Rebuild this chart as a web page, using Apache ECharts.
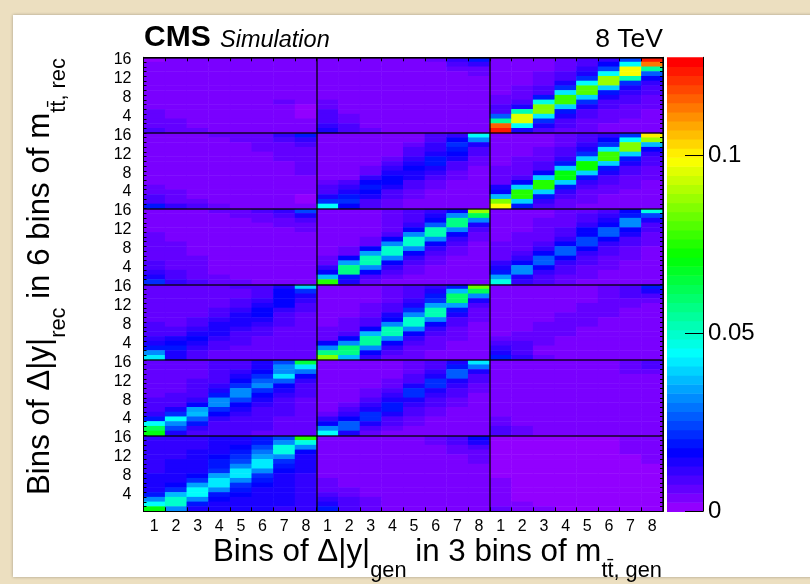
<!DOCTYPE html>
<html><head><meta charset="utf-8">
<script src="https://cdn.jsdelivr.net/npm/echarts@6/dist/echarts.min.js"></script>
<style>
html,body{margin:0;padding:0;background:#ecdfc0;overflow:hidden;}
#panel{position:absolute;left:13px;top:15px;width:820px;height:562px;background:#fff;box-shadow:0 0 3px rgba(0,0,0,0.3);}
#c{position:absolute;left:0;top:0;width:810px;height:584px;}
</style>
</head><body><div id="panel"></div><div id="c"></div>
<script>
// ---------------- DATA (values in units of 1e-3) ----------------
// each block: 16 rows listed from rec bin 16 (top) down to rec bin 1 (bottom), 8 gen bins per row
const genBins = ['1','2','3','4','5','6','7','8'];
const recBins = ['1','2','3','4','5','6','7','8','9','10','11','12','13','14','15','16'];
const nGenMass = 3;
const nRecMass = 6;
const zMax = 0.1275;
const colorbarTicks = [0, 0.05, 0.1];

const rec6_gen1 = [
 [2,3,4,4,4,4,5,5],[3,5,4,3,3,4,4,5],[3,5,5,3,3,3,4,4],[4,4,4,4,4,3,3,4],
 [5,4,3,3,3,3,3,4],[5,3,3,3,3,3,3,3],[5,4,3,3,3,3,4,3],[5,4,3,3,3,3,4,3],
 [5,5,4,3,3,3,5,3],[5,5,4,4,4,3,6,3],[5,5,4,4,4,4,5,2],[6,5,5,4,4,4,4,2],
 [6,5,5,5,4,4,4,2],[6,6,5,5,5,4,4,3],[7,6,5,5,5,5,4,3],[8,6,6,5,5,5,4,3]];
const rec5_gen1 = [
 [4,5,5,6,6,7,11,20],[4,4,5,5,6,7,9,12],[4,5,5,5,5,6,7,8],[5,5,5,5,5,6,6,7],
 [5,5,5,5,5,5,6,6],[5,5,5,5,5,5,6,6],[5,5,5,5,5,5,5,6],[5,5,5,5,5,5,5,6],
 [5,5,5,5,5,5,5,6],[5,5,5,5,5,5,5,5],[5,5,5,5,5,5,5,5],[6,5,5,5,5,5,5,4],
 [7,6,5,5,5,5,5,3],[8,6,5,5,5,5,5,2],[10,7,6,5,5,5,5,2],[19,11,8,6,5,5,5,4]];
const rec4_gen1 = [
 [5,5,5,6,7,8,11,24],[5,5,5,5,6,7,9,14],[5,5,5,5,5,6,7,9],[5,5,5,5,5,5,6,7],
 [5,5,5,5,5,5,5,6],[6,5,5,5,5,5,5,5],[6,5,5,5,5,5,5,5],[6,6,5,5,5,5,5,5],
 [6,6,5,5,5,5,4,4],[6,6,5,5,5,5,4,4],[7,6,6,5,5,4,4,4],[8,7,6,5,5,4,3,4],
 [9,7,6,5,5,4,3,4],[11,8,6,5,5,4,4,4],[13,10,7,6,5,5,5,5],[22,12,8,6,6,5,5,5]];
const rec3_gen1 = [
 [6,6,6,7,8,10,14,39],[6,6,6,6,7,9,16,22],[6,6,6,6,7,10,17,15],[6,6,6,6,8,12,17,11],
 [6,6,6,7,9,13,17,9],[6,6,7,8,11,16,12,8],[6,6,7,9,13,16,10,7],[7,7,8,11,14,13,9,7],
 [8,7,9,14,14,11,8,6],[8,8,12,15,12,9,7,6],[9,10,15,14,10,8,7,6],[11,14,16,11,9,7,6,6],
 [14,17,14,9,8,7,6,6],[19,18,11,8,7,6,6,6],[31,15,9,7,7,6,6,6],[42,13,8,7,6,6,6,6]];
const rec2_gen1 = [
 [6,6,7,8,10,14,24,66],[6,6,7,8,10,15,31,41],[6,6,7,8,11,17,32,30],[6,6,7,9,13,22,41,16],
 [7,7,8,10,17,27,26,11],[7,7,8,12,21,31,17,9],[7,7,9,15,32,22,13,8],[7,8,10,20,33,17,11,8],
 [8,8,12,31,24,13,10,7],[8,9,17,32,17,11,9,7],[9,14,35,22,13,10,8,7],[11,22,37,16,11,9,8,7],
 [18,45,28,12,10,8,7,7],[44,33,18,10,9,8,7,7],[62,24,12,9,8,8,7,7],[70,14,10,8,8,7,7,7]];
const rec1_gen1 = [
 [11,11,12,13,15,18,24,76],[11,11,12,13,15,20,33,46],[11,12,12,14,17,24,47,31],[12,12,13,15,19,30,47,16],
 [12,12,13,16,22,35,33,14],[12,13,14,18,24,42,22,13],[12,13,14,20,33,42,18,13],[12,13,15,22,41,31,16,13],
 [13,13,16,35,41,22,15,12],[13,14,22,43,31,18,14,12],[13,16,35,41,22,16,13,12],[15,22,45,31,18,15,13,12],
 [20,37,45,20,16,14,13,12],[33,50,33,17,15,14,13,12],[45,50,20,15,14,13,13,12],[70,33,15,14,13,13,12,12]];

const rec6_gen2 = [
 [3,4,4,4,5,7,11,18],[3,4,4,4,4,5,8,11],[4,4,4,4,4,5,6,7],[4,4,4,4,4,4,5,6],
 [4,4,4,4,4,4,5,5],[4,4,4,4,4,4,4,5],[4,4,4,4,4,4,4,4],[5,4,4,4,4,4,4,4],
 [5,4,4,4,4,4,4,4],[6,4,4,4,4,4,4,3],[7,5,4,4,4,4,3,3],[8,5,5,4,4,4,3,3],
 [9,6,5,4,4,3,3,3],[10,7,5,4,4,3,3,3],[11,8,5,5,4,4,3,3],[14,10,6,5,4,4,4,3]];
const rec5_gen2 = [
 [3,3,4,4,5,8,12,45],[3,3,4,4,5,9,17,31],[3,4,4,4,6,11,22,14],[4,4,4,5,8,11,20,10],
 [4,4,4,5,9,15,16,8],[4,4,5,6,11,18,13,7],[4,4,5,8,15,18,10,6],[4,5,6,11,16,14,8,5],
 [5,5,7,15,15,11,7,5],[5,5,12,17,13,8,6,4],[6,8,16,16,10,7,5,4],[9,12,18,13,8,6,5,4],
 [9,15,17,10,7,5,4,4],[15,20,13,8,6,5,4,3],[22,22,10,7,5,4,4,3],[45,16,8,6,5,4,4,3]];
const rec4_gen2 = [
 [4,4,5,6,8,12,17,87],[4,4,5,6,8,13,33,62],[4,4,5,6,9,17,57,33],[4,4,5,6,11,27,57,14],
 [4,5,5,7,16,53,33,9],[5,5,5,8,31,53,17,7],[5,5,6,16,50,33,12,6],[5,5,6,33,50,17,9,5],
 [5,6,17,50,33,12,7,5],[5,6,35,50,17,9,6,4],[6,16,53,31,12,7,5,4],[7,35,53,16,9,6,5,4],
 [11,57,33,11,7,5,4,4],[17,57,16,8,6,5,4,4],[38,20,10,6,5,4,4,4],[75,15,7,5,5,4,4,4]];
const rec3_gen2 = [
 [4,4,5,6,8,12,20,83],[4,4,5,6,9,14,37,62],[4,5,5,6,10,18,60,31],[5,5,5,7,12,22,60,13],
 [5,5,6,8,15,35,35,9],[5,5,6,9,22,53,20,7],[5,5,7,13,33,53,13,6],[5,6,8,17,50,31,10,6],
 [5,6,10,33,50,17,8,5],[6,7,17,52,31,12,7,5],[6,9,37,52,17,9,6,5],[7,17,55,31,12,7,6,5],
 [17,33,55,17,9,6,5,5],[33,60,33,12,7,6,5,5],[57,57,17,9,6,5,5,5],[85,37,11,7,6,5,5,5]];
const rec2_gen2 = [
 [4,4,4,5,6,8,13,42],[4,4,4,5,6,9,18,29],[4,4,4,5,7,11,27,15],[4,4,5,5,8,14,27,10],
 [4,4,5,6,10,22,15,8],[4,4,5,7,14,22,11,7],[4,5,6,9,22,15,9,6],[4,5,6,12,22,11,8,5],
 [5,5,8,14,15,9,7,5],[5,6,11,20,12,8,6,5],[5,8,15,20,9,7,5,4],[7,12,22,14,8,6,5,4],
 [11,17,22,10,7,5,5,4],[17,26,15,8,6,5,4,4],[33,26,10,6,5,5,4,4],[45,15,7,5,5,4,4,4]];
const rec1_gen2 = [
 [5,5,5,5,5,6,9,17],[5,5,5,5,5,6,9,14],[5,5,5,5,5,5,7,9],[5,5,5,5,5,5,6,7],
 [5,5,5,5,5,5,5,6],[5,5,5,5,5,5,5,6],[5,5,5,5,5,5,5,5],[5,5,5,5,5,5,5,5],
 [5,5,5,5,5,5,5,5],[6,5,5,5,5,5,5,5],[6,5,5,5,5,5,5,5],[7,6,5,5,5,5,5,5],
 [9,7,5,5,5,5,5,5],[11,8,6,5,5,4,4,5],[14,9,6,5,4,4,4,5],[20,10,6,5,4,4,4,5]];

const rec6_gen3 = [
 [4,4,5,6,8,12,24,123],[4,4,5,6,9,17,44,113],[4,5,5,7,11,23,98,55],[4,5,6,8,14,45,98,28],
 [5,5,6,9,22,88,52,17],[5,5,7,13,45,88,21,12],[5,6,8,22,80,40,14,9],[5,6,10,43,80,20,11,8],
 [6,7,20,78,40,13,9,7],[6,8,48,78,21,10,8,6],[8,13,86,40,13,8,7,6],[10,52,86,20,10,7,6,5],
 [27,96,41,13,8,6,6,5],[55,96,22,10,7,6,5,5],[115,45,14,8,6,5,5,5],[123,15,10,7,6,5,5,5]];
const rec5_gen3 = [
 [4,4,5,6,8,12,22,100],[4,5,5,6,9,16,45,88],[5,5,5,7,11,22,85,37],[5,5,6,8,14,42,85,17],
 [5,5,6,9,22,78,40,12],[5,6,7,12,40,78,18,9],[5,6,8,20,72,40,13,8],[6,6,10,40,72,18,10,7],
 [6,7,17,70,40,13,8,6],[6,8,40,70,18,10,7,6],[7,17,75,40,12,8,6,5],[13,39,75,18,9,7,6,5],
 [17,75,40,12,7,6,5,5],[38,75,18,9,6,5,5,5],[85,40,11,7,6,5,5,5],[98,18,8,6,5,5,5,5]];
const rec4_gen3 = [
 [4,5,5,6,7,10,16,46],[4,5,5,6,8,12,20,24],[5,5,6,7,9,15,31,14],[5,5,6,7,11,17,31,10],
 [5,5,6,8,16,27,17,8],[5,6,7,9,17,27,13,7],[5,6,7,12,25,16,10,6],[6,6,8,17,25,12,8,6],
 [6,7,11,27,16,9,7,5],[6,8,17,27,12,8,6,5],[7,11,27,16,9,7,6,5],[11,17,27,12,8,6,5,5],
 [13,32,17,9,7,6,5,5],[20,32,12,8,6,5,5,5],[35,15,9,7,6,5,5,5],[46,12,8,6,5,5,5,5]];
const rec3_gen3 = [
 [3,3,4,4,5,6,10,18],[3,3,4,4,5,6,9,13],[3,4,4,4,5,7,8,9],[3,4,4,5,5,7,7,7],
 [4,4,4,5,6,7,6,5],[4,4,4,5,7,6,5,5],[4,4,5,6,7,6,5,4],[4,4,5,7,6,5,5,4],
 [4,5,6,7,6,5,4,4],[4,5,7,6,5,5,4,4],[5,6,7,6,5,4,4,4],[6,7,7,5,5,4,4,4],
 [8,8,6,5,4,4,4,4],[11,8,5,5,4,4,4,4],[14,10,5,4,4,4,4,4],[20,11,6,4,4,4,4,4]];
const rec2_gen3 = [
 [3,3,3,4,4,5,6,10],[3,3,3,4,4,5,6,8],[3,3,4,4,5,5,6,6],[3,3,4,4,5,5,5,5],
 [3,4,4,5,5,5,4,4],[3,4,4,5,5,5,4,4],[4,4,5,5,5,5,4,4],[4,4,5,5,5,4,4,4],
 [4,5,5,5,4,4,4,3],[4,5,5,5,4,4,4,3],[5,5,5,4,4,3,3,3],[5,5,5,4,4,3,3,3],
 [6,5,4,4,3,3,3,3],[7,5,4,3,3,3,3,3],[8,6,4,3,3,3,3,3],[10,7,4,3,3,3,3,3]];
const rec1_gen3 = [
 [2,2,2,2,2,2,4,5],[2,2,2,2,2,2,4,5],[2,2,2,2,2,2,3,4],[2,2,2,2,2,2,3,4],
 [2,2,2,2,2,2,2,4],[2,2,2,2,2,2,2,4],[2,2,2,2,2,2,2,2],[2,2,2,2,2,2,2,2],
 [2,2,2,2,2,2,2,2],[4,2,2,2,2,2,2,2],[4,2,2,2,2,2,2,2],[5,2,2,2,2,2,2,2],
 [5,2,2,2,2,2,2,2],[5,2,2,2,2,2,2,2],[5,4,2,2,2,2,2,2],[6,4,4,2,2,2,2,2]];

// ---------------- BUILD ----------------
const blockGrid = [
  [rec1_gen1, rec1_gen2, rec1_gen3],
  [rec2_gen1, rec2_gen2, rec2_gen3],
  [rec3_gen1, rec3_gen2, rec3_gen3],
  [rec4_gen1, rec4_gen2, rec4_gen3],
  [rec5_gen1, rec5_gen2, rec5_gen3],
  [rec6_gen1, rec6_gen2, rec6_gen3]
];
const xCats = [];
for (let g = 0; g < nGenMass; g++) genBins.forEach(b => xCats.push(g + ':' + b));
const yCats = [];
for (let m = 0; m < nRecMass; m++) recBins.forEach(b => yCats.push(m + ':' + b));

const heat = [];
for (let R = 0; R < nRecMass; R++) {
  for (let G = 0; G < nGenMass; G++) {
    const b = blockGrid[R][G];
    for (let k = 0; k < 16; k++) {
      const r = 15 - k;
      for (let c = 0; c < 8; c++) heat.push([G * 8 + c, R * 16 + r, b[k][c] / 1000]);
    }
  }
}

// ROOT "pretty palette": 50 colours, HLS with hue 280 -> 0
function hueToRgb(h) {
  const x = 1 - Math.abs((h / 60) % 2 - 1);
  let r, g, b;
  if (h < 60) [r, g, b] = [1, x, 0];
  else if (h < 120) [r, g, b] = [x, 1, 0];
  else if (h < 180) [r, g, b] = [0, 1, x];
  else if (h < 240) [r, g, b] = [0, x, 1];
  else if (h < 300) [r, g, b] = [x, 0, 1];
  else [r, g, b] = [1, 0, x];
  return 'rgb(' + Math.round(r * 255) + ',' + Math.round(g * 255) + ',' + Math.round(b * 255) + ')';
}
const NPAL = 50;
const pal = [];
for (let i = 0; i < NPAL; i++) pal.push(hueToRgb(280 - (i + 1) * (280 / NPAL)));
const step = zMax / NPAL;
const pieces = pal.map((col, i) => ({ min: i * step, max: i === NPAL - 1 ? 10 : (i + 1) * step, color: col }));
const barData = pal.map((col, i) => [0, i * step, (i + 1) * step]);

const FONT = 'Liberation Sans';
const chart = echarts.init(document.getElementById('c'), null, { renderer: 'canvas' });

const L = 60;
const titleRich = {
  m: { fontFamily: FONT, fontSize: 31.3, fill: '#000', lineHeight: L, verticalAlign: 'middle' },
  s: { fontFamily: FONT, fontSize: 21.8, fill: '#000', lineHeight: 22, verticalAlign: 'bottom' }
};
const option = {
  animation: false,
  backgroundColor: 'transparent',
  grid: [
    { left: 143.5, top: 57.3, width: 519.5, height: 454 },
    { left: 667, top: 57.3, width: 36, height: 454 }
  ],
  visualMap: { type: 'piecewise', show: false, seriesIndex: 0, dimension: 2, pieces: pieces },
  xAxis: [
    { type: 'category', gridIndex: 0, data: xCats, position: 'bottom', z: 10,
      axisLine: { show: true, lineStyle: { color: '#000', width: 1 } },
      axisTick: { show: true, inside: true, length: 4, interval: 0, lineStyle: { color: '#000' } },
      axisLabel: { interval: 0, fontFamily: FONT, fontSize: 16, color: '#000', margin: 7,
        formatter: v => v.split(':')[1] },
      splitLine: { show: true, interval: (i) => i > 0 && i % 8 === 0, lineStyle: { color: '#000', width: 1.5, opacity: 0.85 } } },
    { type: 'category', gridIndex: 0, data: xCats, position: 'top', z: 10,
      axisLine: { show: true, lineStyle: { color: '#000', width: 1 } },
      axisTick: { show: true, inside: true, length: 4, interval: 0, lineStyle: { color: '#000' } },
      axisLabel: { show: false }, splitLine: { show: false } },
    { type: 'category', gridIndex: 1, data: ['z'], show: false }
  ],
  yAxis: [
    { type: 'category', gridIndex: 0, data: yCats, position: 'left', z: 10,
      axisLine: { show: true, lineStyle: { color: '#000', width: 1 } },
      axisTick: { show: true, inside: true, length: 3, interval: 0, lineStyle: { color: '#000' } },
      axisLabel: { interval: (i, v) => Number(v.split(':')[1]) % 4 === 0, fontFamily: FONT, fontSize: 16, color: '#000', margin: 12,
        formatter: v => v.split(':')[1] },
      splitLine: { show: true, interval: (i) => i > 0 && i % 16 === 0, lineStyle: { color: '#000', width: 1.5, opacity: 0.85 } } },
    { type: 'category', gridIndex: 0, data: yCats, position: 'right', z: 10,
      axisLine: { show: true, lineStyle: { color: '#000', width: 1 } },
      axisTick: { show: true, inside: true, length: 3, interval: 0, lineStyle: { color: '#000' } },
      axisLabel: { show: false }, splitLine: { show: false } },
    { type: 'value', gridIndex: 1, min: 0, max: zMax, position: 'right', z: 10,
      axisLine: { show: true, lineStyle: { color: '#000', width: 1 } },
      axisTick: { show: true, inside: true, length: 18, customValues: colorbarTicks, lineStyle: { color: '#000', width: 1 } },
      axisLabel: { customValues: colorbarTicks, fontFamily: FONT, fontSize: 24, color: '#000', margin: 5,
        formatter: v => String(v) },
      splitLine: { show: false } }
  ],
  series: [
    { type: 'heatmap', xAxisIndex: 0, yAxisIndex: 0, data: heat, progressive: 0,
      itemStyle: { borderWidth: 0 }, emphasis: { disabled: true } },
    { type: 'custom', xAxisIndex: 2, yAxisIndex: 2, data: barData, encode: { x: 0, y: [1, 2] },
      renderItem: function (params, api) {
        const p0 = api.coord([0, api.value(1)]);
        const p1 = api.coord([0, api.value(2)]);
        const w = api.size([1, 0])[0];
        return { type: 'rect', shape: { x: p0[0] - w / 2, y: p1[1], width: w, height: p0[1] - p1[1] + 0.6 },
          style: { fill: pal[params.dataIndex] } };
      } }
  ],
  graphic: [
    { type: 'text', x: 144, y: 38, style: { text: 'CMS', fontFamily: FONT, fontWeight: 'bold', fontSize: 30, fill: '#000', verticalAlign: 'middle' } },
    { type: 'text', x: 220, y: 40, style: { text: 'Simulation', fontFamily: FONT, fontStyle: 'italic', fontSize: 23.5, fill: '#000', verticalAlign: 'middle' } },
    { type: 'text', x: 663, y: 40, style: { text: '8 TeV', fontFamily: FONT, fontSize: 26.5, fill: '#000', align: 'right', verticalAlign: 'middle' } },
    { type: 'text', x: 213, y: 552 - L / 2,
      style: { text: '{m|Bins of Δ|y|}{s|gen}{m| in 3 bins of m}{s|tt̄, gen}', verticalAlign: 'top', align: 'left', rich: titleRich } },
    { type: 'text', x: 40 - L / 2, y: 495, rotation: Math.PI / 2,
      style: { text: '{m|Bins of Δ|y|}{s|rec}{m| in 6 bins of m}{s|tt̄, rec}', verticalAlign: 'top', align: 'left', rich: titleRich } }
  ]
};
chart.setOption(option);
</script>
</body></html>
